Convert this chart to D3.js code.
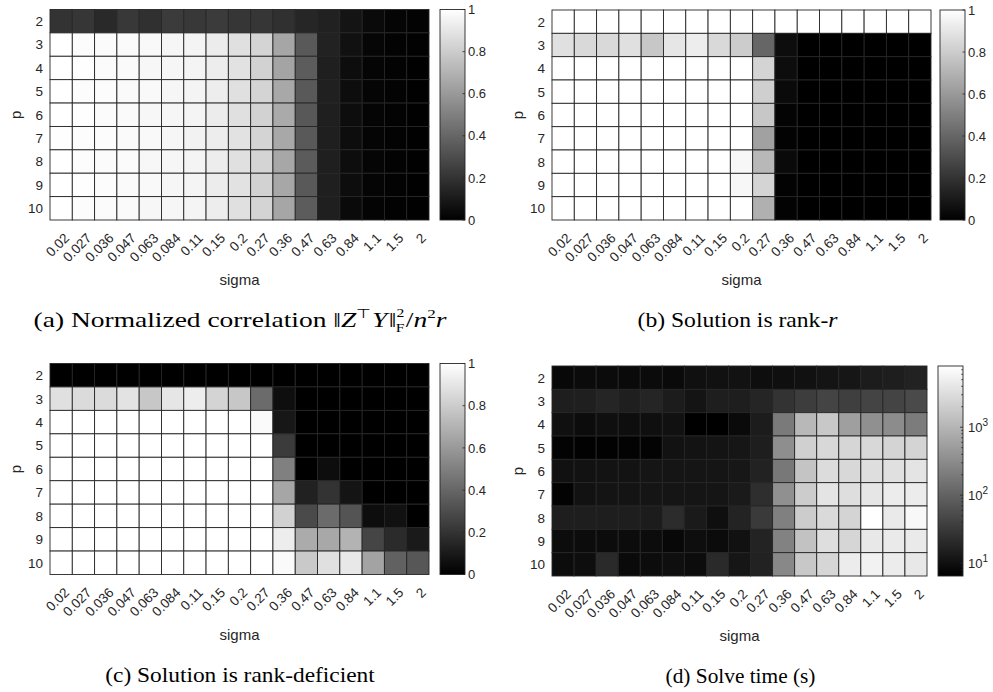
<!DOCTYPE html>
<html><head><meta charset="utf-8">
<script src="https://cdn.jsdelivr.net/npm/d3@7"></script>
<style>
body{margin:0;background:#fff;}
svg{display:block;}
</style></head>
<body>
<svg id="chart" width="993" height="692"></svg>
<script>
const sigmaLabels = ["0.02","0.027","0.036","0.047","0.063","0.084","0.11","0.15","0.2","0.27","0.36","0.47","0.63","0.84","1.1","1.5","2"];
const pLabels = ["2","3","4","5","6","7","8","9","10"];

// (a) normalized correlation
const corrValues = [
 [0.20,0.21,0.16,0.22,0.19,0.23,0.22,0.23,0.21,0.21,0.19,0.15,0.13,0.08,0.04,0.02,0.01],
 [1.00,0.99,0.985,0.98,0.975,0.965,0.955,0.925,0.88,0.83,0.65,0.35,0.135,0.065,0.025,0.012,0.006],
 [1.00,0.995,0.985,0.98,0.97,0.965,0.955,0.93,0.885,0.825,0.645,0.36,0.12,0.05,0.02,0.01,0.005],
 [1.00,0.99,0.99,0.98,0.975,0.965,0.955,0.93,0.88,0.83,0.66,0.35,0.125,0.05,0.02,0.01,0.005],
 [1.00,0.995,0.985,0.98,0.97,0.965,0.955,0.925,0.88,0.825,0.665,0.345,0.12,0.05,0.02,0.01,0.005],
 [0.995,0.99,0.99,0.98,0.975,0.965,0.95,0.93,0.885,0.83,0.66,0.35,0.12,0.05,0.02,0.01,0.005],
 [1.00,0.99,0.985,0.985,0.97,0.965,0.955,0.93,0.88,0.83,0.655,0.355,0.12,0.05,0.02,0.01,0.005],
 [1.00,0.995,0.99,0.98,0.975,0.965,0.955,0.925,0.885,0.825,0.655,0.35,0.12,0.05,0.02,0.01,0.005],
 [1.00,0.99,0.985,0.98,0.97,0.965,0.955,0.93,0.88,0.83,0.65,0.36,0.12,0.04,0.015,0.008,0.005]
];
// (b) solution is rank-r
const rankRValues = [
 [1,1,1,1,1,1,1,1,1,1,1,1,1,1,1,1,1],
 [0.88,0.85,0.85,0.88,0.78,0.90,0.93,0.85,0.80,0.40,0.05,0,0,0,0,0,0],
 [1,1,1,1,1,1,1,1,1,0.83,0.05,0,0,0,0,0,0],
 [1,1,1,1,1,1,1,1,1,0.81,0.04,0,0,0,0,0,0],
 [1,1,1,1,1,1,1,1,1,0.78,0.015,0,0,0,0,0,0],
 [1,1,1,1,1,1,1,1,1,0.63,0.01,0,0,0,0,0,0],
 [1,1,1,1,1,1,1,1,0.97,0.72,0.04,0,0,0,0,0,0],
 [1,1,1,1,1,1,1,1,0.97,0.83,0.01,0,0,0,0,0,0],
 [1,1,1,1,1,1,1,1,1,0.69,0.01,0,0,0,0,0,0]
];
// (c) solution is rank-deficient
const rankDefValues = [
 [0,0,0,0,0,0,0,0,0,0,0,0,0,0,0,0,0],
 [0.88,0.86,0.86,0.89,0.78,0.90,0.93,0.83,0.78,0.42,0.055,0,0,0,0,0,0],
 [1,1,1,1,1,1,1,1,1,0.98,0.09,0,0,0,0,0,0],
 [1,1,1,1,1,1,1,1,1,1,0.23,0,0,0,0,0,0],
 [1,1,1,1,1,1,1,1,1,1,0.50,0,0.05,0,0,0,0],
 [1,1,1,1,1,1,1,1,1,1,0.65,0.13,0.20,0.08,0,0,0],
 [1,1,1,1,1,1,1,1,1,1,0.82,0.29,0.42,0.33,0.05,0.065,0],
 [1,1,1,1,1,1,1,1,1,1,0.93,0.67,0.66,0.70,0.27,0.17,0.10],
 [1,1,1,1,1,1,1,1,1,1,0.98,0.79,0.88,0.91,0.64,0.38,0.34]
];
// (d) solve time (s)
const solveTimeValues = [
 [8.1,8.8,8.8,8.5,8.8,8.5,10.1,10.4,10.7,9.5,9.8,10.4,11.3,11.9,14.1,14.9,16.7],
 [14.9,15.3,18.1,15.3,18.1,14.1,11.3,14.9,14.9,18.1,26.7,36,43,38,43,43,51],
 [10.1,9.2,9.8,9.5,9.8,10.4,6.5,6.5,8.5,14.1,194,1096,1713,546,359,321,205],
 [7.0,6.8,6.8,7.0,7.1,10.7,11.0,11.3,11.9,14.9,339,2140,2675,2530,2675,2393,2393],
 [10.4,10.7,11.0,11.0,11.6,11.6,11.6,11.6,12.2,16.7,184,1531,2992,2675,3164,3346,3740],
 [7.0,10.7,11.3,11.3,11.6,11.6,11.6,11.6,13.3,23.3,359,1915,3740,3164,3955,4677,4677],
 [14.9,14.9,14.9,14.9,14.1,22.0,13.3,9.8,17.2,32.5,230,1915,2829,2393,7943,4421,6535],
 [9.0,9.2,9.2,9.0,9.2,8.1,9.5,8.8,10.4,17.1,243,1449,3164,2530,4182,4421,4421],
 [9.0,9.5,21.0,8.5,9.2,9.8,9.2,21.0,11.9,16.7,287,1713,2530,4677,5530,4677,4182]
];
const linTicks = [0,0.2,0.4,0.6,0.8,1];
const logTicks = [10,100,1000];

const TXT = "#262626";
const svg = d3.select("#chart");
const sans = "'Liberation Sans', Arial, Helvetica, sans-serif";
const serif = "'Liberation Serif', 'Times New Roman', serif";

const panels = [
 {values: corrValues, x0:50, x1:429, y0:9.5, y1:220, cbX:440, log:false, cap:"a", capX:240, capW:414},
 {values: rankRValues, x0:552, x1:931, y0:10, y1:220, cbX:940, log:false, cap:"b", capX:737.5, capW:201},
 {values: rankDefValues, x0:50, x1:429, y0:363.5, y1:574.5, cbX:440, log:false, cap:"c", capX:240, capW:270},
 {values: solveTimeValues, x0:552, x1:927, y0:366, y1:576, cbX:938, log:true, cap:"d", capX:740.5, capW:150}
];

let gradN = 0;
panels.forEach(P => {
  const g = svg.append("g");
  const x = d3.scaleBand().domain(sigmaLabels).range([P.x0, P.x1]);
  const y = d3.scaleBand().domain(pLabels).range([P.y0, P.y1]);
  let cval;
  if (P.log) {
    cval = d3.scaleLog().domain(d3.extent(P.values.flat())).range([0,1]);
  } else {
    cval = d3.scaleLinear().domain([0,1]).range([0,1]);
  }
  const gray = t => { const v = Math.round(255*Math.max(0,Math.min(1,t))); return `rgb(${v},${v},${v})`; };
  const cells = [];
  P.values.forEach((row,i) => row.forEach((v,j) => cells.push({p:pLabels[i], s:sigmaLabels[j], v})));
  g.selectAll("rect.cell").data(cells).join("rect")
    .attr("x", d => x(d.s)).attr("y", d => y(d.p))
    .attr("width", x.bandwidth()).attr("height", y.bandwidth())
    .attr("fill", d => gray(cval(d.v)))
    .attr("stroke", "#262626").attr("stroke-width", 0.9);

  g.selectAll("text.yt").data(pLabels).join("text")
    .attr("x", P.x0 - 7).attr("y", d => y(d) + y.bandwidth()/2)
    .attr("dy", "0.36em").attr("text-anchor","end")
    .attr("font-family", sans).attr("font-size", 13.5).attr("fill", TXT).text(d => d);
  g.selectAll("text.xt").data(sigmaLabels).join("text")
    .attr("transform", d => `translate(${x(d)+x.bandwidth()/2+2},${P.y1+12}) rotate(-45)`)
    .attr("dy","0.72em").attr("text-anchor","end")
    .attr("font-family", sans).attr("font-size", 13.5).attr("fill", TXT).text(d => d);
  g.append("text").attr("x",(P.x0+P.x1)/2).attr("y",P.y1+65).attr("text-anchor","middle")
    .attr("font-family", sans).attr("font-size", 15).attr("fill", TXT).text("sigma");
  g.append("text").attr("transform",`translate(${P.x0-29},${(P.y0+P.y1)/2}) rotate(-90)`)
    .attr("text-anchor","middle").attr("font-family", sans).attr("font-size", 15).attr("fill", TXT).text("p");

  // colorbar
  const id = "grad" + (gradN++);
  const grad = svg.append("defs").append("linearGradient").attr("id", id)
    .attr("x1",0).attr("y1",1).attr("x2",0).attr("y2",0);
  grad.append("stop").attr("offset",0).attr("stop-color","#000");
  grad.append("stop").attr("offset",1).attr("stop-color","#fff");
  const cbW = 25;
  g.append("rect").attr("x",P.cbX).attr("y",P.y0).attr("width",cbW).attr("height",P.y1-P.y0)
    .attr("fill",`url(#${id})`).attr("stroke","#262626").attr("stroke-width",0.9);
  if (!P.log) {
    const cy = d3.scaleLinear().domain([0,1]).range([P.y1,P.y0]);
    linTicks.forEach(t => {
      g.append("line").attr("x1",P.cbX+cbW-2.5).attr("x2",P.cbX+cbW).attr("y1",cy(t)).attr("y2",cy(t))
        .attr("stroke","#262626").attr("stroke-width",0.8);
      g.append("text").attr("x",P.cbX+cbW+3).attr("y",cy(t)).attr("dy","0.36em")
        .attr("font-family",sans).attr("font-size",13).attr("fill",TXT).text(d3.format("~g")(t));
    });
  } else {
    const ext = d3.extent(P.values.flat());
    const cy = d3.scaleLog().domain(ext).range([P.y1,P.y0]);
    cy.ticks().filter(t => t>=ext[0] && t<=ext[1]).forEach(t => {
      const major = logTicks.includes(t);
      g.append("line").attr("x1",P.cbX+cbW-(major?3:1.8)).attr("x2",P.cbX+cbW).attr("y1",cy(t)).attr("y2",cy(t))
        .attr("stroke","#262626").attr("stroke-width",0.8);
    });
    logTicks.forEach(t => {
      const tx = g.append("text").attr("x",P.cbX+cbW+5).attr("y",cy(t)).attr("dy","0.36em")
        .attr("font-family",sans).attr("font-size",13).attr("fill",TXT);
      tx.append("tspan").text("10");
      tx.append("tspan").attr("font-size",10).attr("dy",-6).text(String(Math.round(Math.log10(t))));
    });
  }

  // caption (stretched horizontally to imitate the wider Computer Modern face)
  const capY = P.y1 + 107;
  const cg = g.append("g");
  const cap = cg.append("text").attr("x",0).attr("y",0).attr("text-anchor","middle")
    .attr("font-family",serif).attr("font-size",21).attr("fill","#000");
  if (P.cap==="a") {
    cap.append("tspan").text("(a) Normalized correlation \u2016");
    cap.append("tspan").attr("font-style","italic").text("Z");
    cap.append("tspan").attr("font-size",13).attr("dy",-9).text("\u22A4");
    cap.append("tspan").attr("font-style","italic").attr("dy",9).attr("dx",1).text("Y");
    cap.append("tspan").attr("dx",1).text("\u2016");
    cap.append("tspan").attr("font-size",12).attr("dy",-10).text("2");
    cap.append("tspan").attr("font-size",12).attr("dy",15).attr("dx",-6.5).text("F");
    cap.append("tspan").attr("dy",-5).attr("dx",1).text("/");
    cap.append("tspan").attr("font-style","italic").text("n");
    cap.append("tspan").attr("font-size",13).attr("dy",-9).text("2");
    cap.append("tspan").attr("font-style","italic").attr("dy",9).text("r");
  } else if (P.cap==="b") {
    cap.append("tspan").text("(b) Solution is rank-");
    cap.append("tspan").attr("font-style","italic").text("r");
  } else if (P.cap==="c") {
    cap.text("(c) Solution is rank-deficient");
  } else {
    cap.text("(d) Solve time (s)");
  }
  const w = cap.node().getBBox().width;
  const s = w > 0 ? P.capW / w : 1;
  cg.attr("transform", `translate(${P.capX},${capY}) scale(${s},1)`);
});
</script>
</body></html>
